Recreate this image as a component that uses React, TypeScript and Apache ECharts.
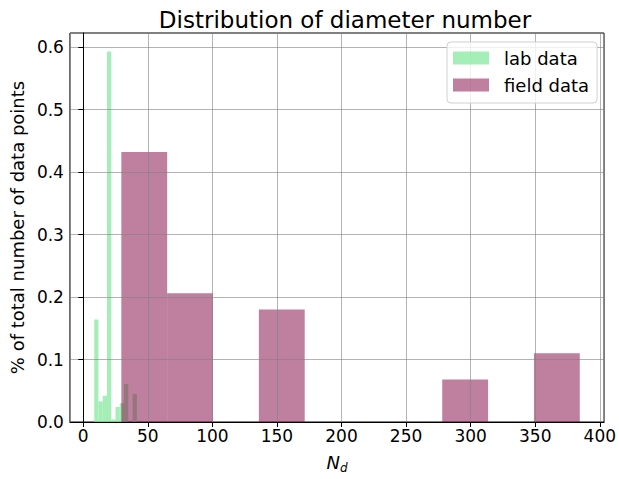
import React, { useEffect, useRef } from "react";
import * as echarts from "echarts";

// Histogram bins
const labEdges = [8.5, 11.8, 15.1, 18.4, 21.7, 25.0, 28.3, 31.6, 34.9, 38.2, 41.5];
const labHeights = [0.164, 0.033, 0.042, 0.593, 0.004, 0.024, 0.03, 0.061, 0, 0.045];
const fieldEdges = [29.5, 65.0, 100.5, 136.0, 171.5, 207.0, 242.5, 278.0, 313.5, 349.0, 384.5];
const fieldHeights = [0.432, 0.206, 0, 0.18, 0, 0, 0, 0.068, 0, 0.11];
const seriesNames = ["lab data", "field data"];
const titleText = "Distribution of diameter number";
const yLabel = "% of total number of data points";

const toBins = (edges: number[], heights: number[]) =>
  heights.map((h, i) => [edges[i], edges[i + 1], h]);

const FONT = "DejaVu Sans";

export default function App() {
  const ref = useRef<HTMLDivElement>(null);
  useEffect(() => {
    document.body.style.margin = "0";
    if (!ref.current) return;
    const chart = echarts.init(ref.current, null, { renderer: "svg" });
    const renderItem = (params: any, api: any) => {
      const p0 = api.coord([api.value(0), api.value(2)]);
      const p1 = api.coord([api.value(1), 0]);
      return {
        type: "rect",
        shape: { x: p0[0], y: p0[1], width: p1[0] - p0[0], height: p1[1] - p0[1] },
        style: api.style(),
      };
    };
    const allEdges = labEdges.concat(fieldEdges);
    const dMin = Math.min(...allEdges);
    const dMax = Math.max(...allEdges);
    const pad = (dMax - dMin) * 0.05;
    const yMax = Math.max(...labHeights, ...fieldHeights) * 1.05;
    chart.setOption({
      animation: false,
      title: {
        text: titleText,
        left: 340,
        top: 3,
        textAlign: "center",
        textStyle: { fontFamily: FONT, fontSize: 23, fontWeight: "normal", color: "#000" },
      },
      legend: {
        orient: "vertical",
        left: 447,
        top: 42,
        padding: [7, 8, 9, 6],
        itemWidth: 36,
        itemHeight: 13,
        itemGap: 9,
        icon: "rect",
        backgroundColor: "rgba(255,255,255,0.8)",
        borderColor: "#d0d0d0",
        borderWidth: 1,
        borderRadius: 4,
        textStyle: { fontFamily: FONT, fontSize: 18, color: "#000", lineHeight: 18, padding: [0, 0, 0, 10] },
        data: seriesNames,
      },
      grid: {
        left: 68,
        right: 13,
        top: 33,
        bottom: 55,
        show: true,
        borderColor: "#000",
        borderWidth: 1,
      },
      xAxis: {
        type: "value",
        min: dMin - pad,
        max: dMax + pad,
        minInterval: 50,
        maxInterval: 50,
        z: 3,
        axisLine: { show: true, lineStyle: { color: "#000", width: 1 } },
        axisTick: { show: true, inside: false, length: 5, lineStyle: { color: "#000" } },
        axisLabel: {
          showMinLabel: false,
          showMaxLabel: false,
          fontFamily: FONT,
          fontSize: 17,
          color: "#000",
          margin: 5,
        },
        splitLine: { show: true, lineStyle: { color: "rgba(128,128,128,0.6)", width: 1 } },
        name: "{n|N}{d|d}",
        nameLocation: "middle",
        nameGap: 29,
        nameTextStyle: {
          fontFamily: FONT,
          color: "#000",
          rich: {
            n: { fontFamily: FONT, fontStyle: "italic", fontSize: 18, color: "#000" },
            d: { fontFamily: FONT, fontStyle: "italic", fontSize: 12, color: "#000", padding: [11, 0, 0, 0] },
          },
        },
      },
      yAxis: {
        type: "value",
        min: 0,
        max: yMax,
        minInterval: 0.1,
        maxInterval: 0.1,
        z: 3,
        axisLine: { show: true, lineStyle: { color: "#000", width: 1 } },
        axisTick: { show: true, inside: false, length: 5, lineStyle: { color: "#000" } },
        axisLabel: {
          showMaxLabel: false,
          fontFamily: FONT,
          fontSize: 17,
          color: "#000",
          margin: 6,
          formatter: (v: number) => v.toFixed(1),
        },
        splitLine: { show: true, lineStyle: { color: "rgba(128,128,128,0.6)", width: 1 } },
        name: yLabel,
        nameLocation: "middle",
        nameGap: 41,
        nameTextStyle: { fontFamily: FONT, fontSize: 18, color: "#000" },
      },
      series: [
        {
          name: seriesNames[0],
          type: "custom",
          renderItem,
          z: 1,
          itemStyle: { color: "rgba(130,232,155,0.72)" },
          encode: { x: [0, 1], y: 2 },
          data: toBins(labEdges, labHeights),
        },
        {
          name: seriesNames[1],
          type: "custom",
          renderItem,
          z: 1,
          itemStyle: { color: "rgba(128,0,64,0.5)" },
          encode: { x: [0, 1], y: 2 },
          data: toBins(fieldEdges, fieldHeights),
        },
      ],
    });
    return () => chart.dispose();
  }, []);
  return <div ref={ref} style={{ width: 619, height: 479 }} />;
}
